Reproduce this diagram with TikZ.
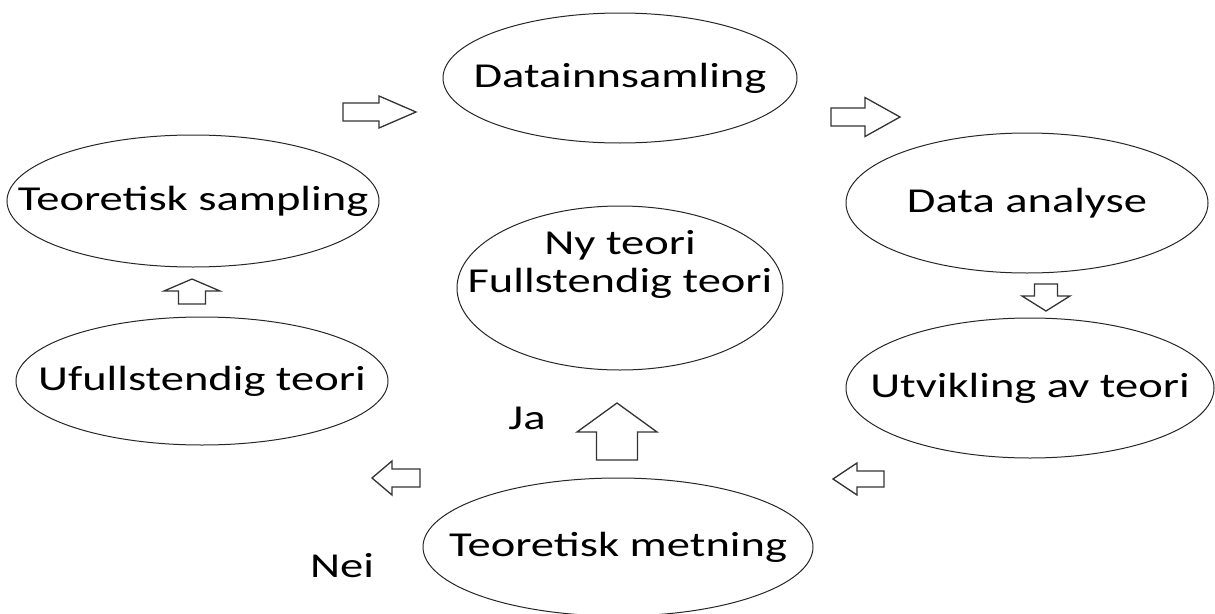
\documentclass[tikz,border=0pt]{standalone}
\usepackage{fontspec}
\setmainfont{Carlito}[FakeStretch=1.33]
\usetikzlibrary{shapes.geometric}

\begin{document}
\begin{tikzpicture}[x=1pt,y=-1pt,
  every node/.style={font=\fontsize{35}{38}\selectfont},
  stage/.style={ellipse,draw=black!85,line width=1pt,align=center,
    inner xsep=-200pt,inner ysep=0pt,outer sep=0},
  plain/.style={align=center,inner sep=0pt},
  hollow/.style={draw=black!80,line width=1.3pt,line join=miter,fill=white},
  pics/blockarrow/.style args={#1/#2/#3/#4}{code={
    \draw[hollow] (0,-#2) -- (#1-#4,-#2) -- (#1-#4,-#3) -- (#1,0)
      -- (#1-#4,#3) -- (#1-#4,#2) -- (0,#2) -- cycle;}}]
  \useasboundingbox (0,0) rectangle (1215,613);
  % the cycle
  \node[stage,minimum width=354,minimum height=130] (datainn) at (620,78) {Datainnsamling};
  \node[stage,minimum width=362,minimum height=140] (analyse) at (1027,203) {Data analyse};
  \node[stage,minimum width=368,minimum height=140] (utvikling) at (1030,388) {Utvikling av teori};
  \node[stage,minimum width=390,minimum height=138] (metning) at (618,547) {Teoretisk metning};
  \node[stage,minimum width=372,minimum height=128] (ufull) at (202,381) {Ufullstendig teori};
  \node[stage,minimum width=372,minimum height=132] (sampling) at (193,201) {Teoretisk sampling};
  % centre
  \node[stage,minimum width=326,minimum height=164] (nyteori) at (620,288) {};
  \node[plain] (nyteoritekst) at (620,264) {Ny teori\\Fullstendig teori};
  % block arrows
  \pic (a1) at (343,112) {blockarrow=73/9/16/37};
  \pic (a2) at (831,117) {blockarrow=69/9/19.5/35};
  \pic[rotate=-90] (a3) at (1046,284) {blockarrow=27/11.5/24/15};
  \pic[rotate=180] (a4) at (884,479) {blockarrow=51/8/16/24};
  \pic[rotate=90] (a5) at (617,460) {blockarrow=57/20.5/40/29};
  \pic[rotate=180] (a6) at (420,478) {blockarrow=48/9/17/20};
  \pic[rotate=90] (a7) at (192,304) {blockarrow=25/13.5/28/12};
  % answers
  \node[plain] (ja) at (527,418) {Ja};
  \node[plain] (nei) at (342,566) {Nei};
\end{tikzpicture}
\end{document}
